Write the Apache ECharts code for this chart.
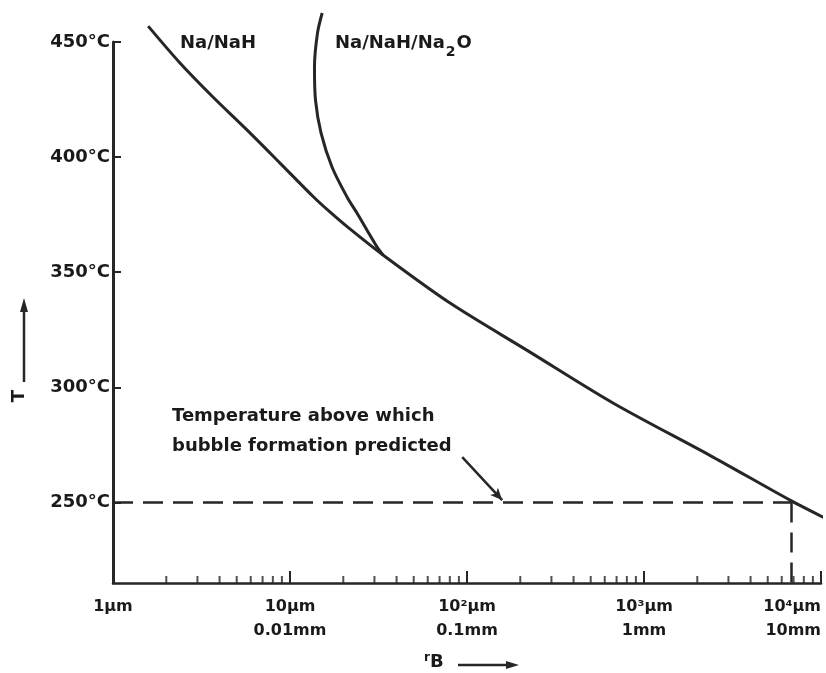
<!DOCTYPE html>
<html>
<head>
<meta charset="utf-8">
<script src="https://cdn.jsdelivr.net/npm/echarts@6/dist/echarts.min.js"></script>
<style>
html,body{margin:0;padding:0;background:#fff;}
#chart{width:826px;height:673px;}
</style>
</head>
<body>
<div id="chart"></div>
<script>
// ---- data ----
// bubble radius r_B in micrometres (log axis), temperature in °C
const naNaH = [
  [1.58, 456.9], [2.39, 440.9], [3.67, 426.1], [5.71, 411.8], [8.78, 397.4],
  [13.5, 382.9], [16.8, 376.2], [21.8, 368.8], [33.5, 357.5], [80.2, 336.6],
  [227, 315.3], [668, 293.2], [2454, 269.7], [6680, 251.0], [10535, 243.2]
];
const naNaHNa2O = [
  [15.2, 462.6], [14.3, 453.9], [13.75, 439.1], [13.93, 424.8], [14.97, 410.5],
  [17.27, 395.7], [20.99, 382.7], [23.9, 375.7], [27.2, 368.3], [31.0, 361.0],
  [33.5, 357.5]
];
const yTickValues = [250, 300, 350, 400, 450];
const xTickValues = [1, 10, 100, 1000, 10000];
const xTickLabels = ['1µm', '10µm\n0.01mm', '10²µm\n0.1mm', '10³µm\n1mm', '10⁴µm\n10mm'];
const xMinorTicks = [
  2, 3, 4, 5, 6, 7, 8, 9,
  20, 30, 40, 50, 60, 70, 80, 90,
  200, 300, 400, 500, 600, 700, 800, 900,
  2000, 3000, 4000, 5000, 6000, 7000, 8000, 9000
];
const thresholdT = 250;
const thresholdR = 6800;
const annotArrowFrom = [94, 269.7];
const annotArrowTo = [158, 251];
const yMin = 215, yMax = 450;

// ---- chart ----
const FONT = '"DejaVu Sans", sans-serif';
const INK = '#262626';
const TXT = '#1a1a1a';
const chart = echarts.init(document.getElementById('chart'), null, {renderer: 'canvas'});

const option = {
  backgroundColor: '#ffffff',
  animation: false,
  grid: {left: 113, right: 5, top: 42, bottom: 90, containLabel: false},
  xAxis: {
    type: 'log', logBase: 10, min: 1, max: 10000,
    axisLine: {lineStyle: {color: INK, width: 2.5}},
    axisTick: {inside: true, length: 12, lineStyle: {color: INK, width: 2}},
    splitLine: {show: false},
    minorTick: {show: false},
    axisLabel: {
      margin: 12,
      alignMaxLabel: 'right',
      fontFamily: FONT, fontWeight: 'bold', fontSize: 16, color: TXT,
      lineHeight: 24,
      formatter: function (v) {
        const i = xTickValues.findIndex(t => Math.abs(Math.log10(t) - Math.log10(v)) < 1e-6);
        return i >= 0 ? xTickLabels[i] : '';
      }
    }
  },
  yAxis: {
    type: 'value', min: yMin, max: yMax,
    axisLine: {lineStyle: {color: INK, width: 3}},
    axisTick: {inside: true, length: 8, customValues: yTickValues, lineStyle: {color: INK, width: 2}},
    splitLine: {show: false},
    axisLabel: {
      margin: 3, customValues: yTickValues,
      fontFamily: FONT, fontWeight: 'bold', fontSize: 18, color: TXT,
      formatter: v => v + '°C'
    }
  },
  series: [
    {
      name: 'Na/NaH', type: 'line', data: naNaH, smooth: 0.3,
      showSymbol: false, clip: false, silent: true,
      lineStyle: {color: INK, width: 3}
    },
    {
      name: 'Na/NaH/Na2O', type: 'line', data: naNaHNa2O, smooth: 0.3,
      showSymbol: false, clip: false, silent: true,
      lineStyle: {color: INK, width: 3}
    },
    {
      name: 'minorTicks', type: 'scatter', silent: true, clip: false,
      data: xMinorTicks.map(v => [v, yMin]),
      symbol: 'rect', symbolSize: [2, 7], symbolOffset: [0, -3.5],
      itemStyle: {color: INK}
    },
    {
      name: 'threshold', type: 'line', data: [], silent: true,
      markLine: {
        silent: true, symbol: ['none', 'none'], label: {show: false},
        lineStyle: {color: INK, width: 2.5, type: [20, 10]},
        data: [
          [{coord: [1, thresholdT]}, {coord: [thresholdR, thresholdT]}],
          [{coord: [thresholdR, thresholdT]}, {coord: [thresholdR, yMin]}]
        ]
      }
    },
    {
      name: 'annotArrow', type: 'line', data: [], silent: true,
      markLine: {
        silent: true, symbol: ['none', 'arrow'], symbolSize: [8, 12], label: {show: false},
        lineStyle: {color: INK, width: 2.5, type: 'solid'},
        data: [[{coord: annotArrowFrom}, {coord: annotArrowTo}]]
      }
    }
  ],
  graphic: [
    {type: 'text', left: 180, top: 34, style: {text: 'Na/NaH', font: 'bold 18px ' + FONT, fill: TXT}},
    {type: 'text', left: 335, top: 34, style: {
      text: '{n|Na/NaH/Na}{s|2}{n|O}',
      rich: {
        n: {font: 'bold 18px ' + FONT, fill: TXT, verticalAlign: 'top'},
        s: {font: 'bold 14px ' + FONT, fill: TXT, padding: [11, 1, 0, 1]}
      }
    }},
    {type: 'text', left: 172, top: 401, style: {
      text: 'Temperature above which\nbubble formation predicted',
      font: 'bold 18px ' + FONT, fill: TXT, lineHeight: 30
    }},
    // axis names with arrows
    {type: 'text', x: 19, y: 396, rotation: Math.PI / 2, style: {
      text: 'T', font: 'bold 18px ' + FONT, fill: TXT, align: 'center', verticalAlign: 'middle'
    }},
    {type: 'line', shape: {x1: 24, y1: 382, x2: 24, y2: 306}, style: {stroke: INK, lineWidth: 2.5}},
    {type: 'polygon', shape: {points: [[24, 298], [20, 312], [28, 312]]}, style: {fill: INK}},
    {type: 'text', left: 424, top: 652, style: {
      text: '{r|r}{b|B}',
      rich: {
        r: {font: 'bold 12px ' + FONT, fill: TXT, padding: [0, 0, 8, 0]},
        b: {font: 'bold 18px ' + FONT, fill: TXT}
      }
    }},
    {type: 'line', shape: {x1: 458, y1: 665, x2: 510, y2: 665}, style: {stroke: INK, lineWidth: 2.5}},
    {type: 'polygon', shape: {points: [[519, 665], [506, 661], [506, 669]]}, style: {fill: INK}}
  ]
};
chart.setOption(option);
</script>
</body>
</html>
